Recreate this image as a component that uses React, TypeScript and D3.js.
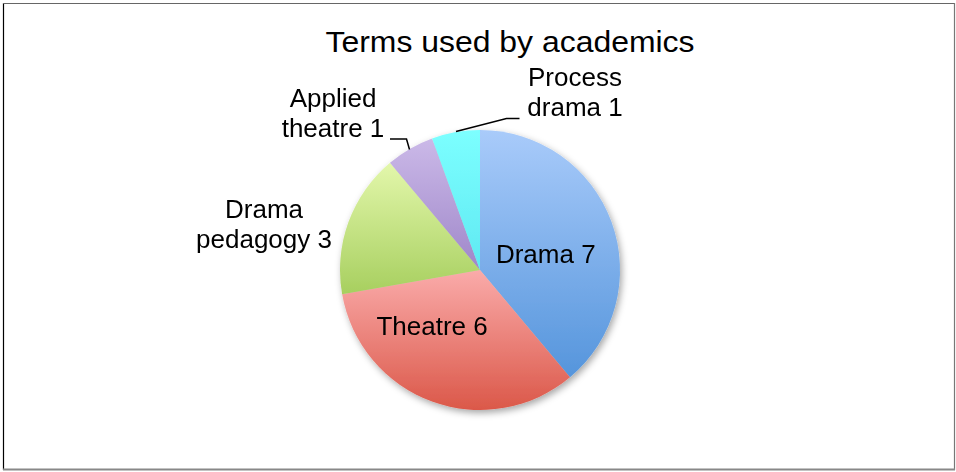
import React from "react";
import * as d3 from "d3";

const categories = ["Drama", "Theatre", "Drama pedagogy", "Applied theatre", "Process drama"];
const values = [7, 6, 3, 1, 1];
const colorsTop = ["#a9cbfa", "#faabaa", "#e3f7ab", "#cbb9e8", "#7cffff"];
const colorsBottom = ["#5595dc", "#db5849", "#a7cf5f", "#9f87c9", "#5fe9f2"];
const title = "Terms used by academics";

const W = 956;
const H = 472;
const cx = 480;
const cy = 270;
const R = 140;

const labelLines: string[][] = [
  ["Drama 7"],
  ["Theatre 6"],
  ["Drama", "pedagogy 3"],
  ["Applied", "theatre 1"],
  ["Process", "drama 1"],
];

export default function App() {
  const pie = d3.pie<number>().sort(null).value((d) => d)(values);
  const arc = d3.arc<d3.PieArcDatum<number>>().innerRadius(0).outerRadius(R);
  const labelArc = d3.arc<d3.PieArcDatum<number>>().innerRadius(R * 0.5).outerRadius(R * 0.5);

  const anchors = pie.map((p) => {
    const [x, y] = labelArc.centroid(p);
    return [cx + x, cy + y];
  });
  const nudges = [
    [0, 8],
    [-24, -10],
  ];

  const fs = 26;
  const lh = 30;

  const labelPositions = anchors.map((a, i) => {
    if (i === 0 || i === 1) return [a[0] + nudges[i][0], a[1] + nudges[i][1]];
    if (i === 2) return [264, 218];
    if (i === 3) return [333, 107];
    return [575, 86];
  });

  return (
    <svg width={W} height={H} style={{ position: "absolute", left: 0, top: 0 }} fontFamily="'Liberation Sans', Arial, sans-serif">
      <defs>
        {values.map((_, i) => (
          <linearGradient key={i} id={`g${i}`} x1="0" y1="0" x2="0" y2="1">
            <stop offset="0" stopColor={colorsTop[i]} />
            <stop offset="1" stopColor={colorsBottom[i]} />
          </linearGradient>
        ))}
        <filter id="sh" x="-20%" y="-20%" width="140%" height="140%">
          <feDropShadow dx="2" dy="3" stdDeviation="3.5" floodColor="#000" floodOpacity="0.35" />
        </filter>
      </defs>
      <rect x={0} y={0} width={W} height={H} fill="#fff" />
      <line x1={3.5} y1={3} x2={3.5} y2={470} stroke="#000" strokeWidth={1.2} />
      <line x1={3} y1={3.5} x2={955} y2={3.5} stroke="#666" strokeWidth={1.2} />
      <line x1={954.5} y1={3} x2={954.5} y2={470} stroke="#777" strokeWidth={1.2} />
      <line x1={3} y1={469.5} x2={955} y2={469.5} stroke="#888" strokeWidth={2} />

      <text x={510} y={52} textAnchor="middle" fontSize={29} fill="#000" textLength={369} lengthAdjust="spacingAndGlyphs">{title}</text>

      <g filter="url(#sh)">
        {pie.map((p, i) => (
          <path key={categories[i]} d={arc(p) || ""} transform={`translate(${cx},${cy})`} fill={`url(#g${i})`} />
        ))}
      </g>

      <polyline
        points={`${390},${139} ${406.5},${139} ${409.5},${149.5}`}
        fill="none" stroke="#000" strokeWidth={1.5}
      />
      <polyline
        points={`${456},${131.5} ${506.5},${118.5} ${519.5},${118.5}`}
        fill="none" stroke="#000" strokeWidth={1.5}
      />

      {labelLines.map((lines, i) => {
        const [x, y] = labelPositions[i];
        const inside = i < 2;
        const y0 = inside ? y + fs * 0.36 : y;
        return (
          <text key={i} x={x} y={y0} textAnchor="middle" fontSize={fs} fill="#000">
            {lines.map((l, j) => (
              <tspan key={j} x={x} y={y0 + j * lh}>{l}</tspan>
            ))}
          </text>
        );
      })}
    </svg>
  );
}
